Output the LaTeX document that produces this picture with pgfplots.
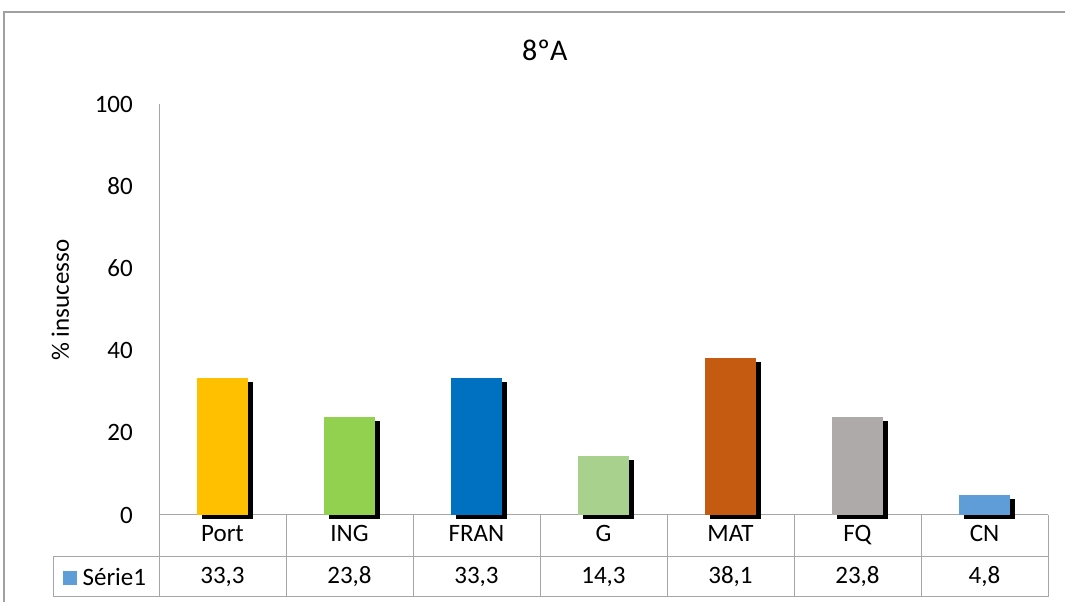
\documentclass[border=0pt]{standalone}
\usepackage{pgfplots}
\pgfplotsset{compat=1.18}
\usepackage{fontspec}
\setmainfont{Carlito}
\usetikzlibrary{shadows}
\definecolor{cPort}{HTML}{FFC000}
\definecolor{cING}{HTML}{92D050}
\definecolor{cFRAN}{HTML}{0070C0}
\definecolor{cG}{HTML}{A9D18E}
\definecolor{cMAT}{HTML}{C55A11}
\definecolor{cFQ}{HTML}{AEAAAA}
\definecolor{cCN}{HTML}{5E9DD8}
\definecolor{gridc}{HTML}{A6A6A6}
\definecolor{framec}{HTML}{A0A0A0}
\newcommand{\fs}{\fontsize{25}{30}\selectfont}
\tikzset{shad/.style={drop shadow={shadow xshift=5pt,shadow yshift=-4pt,fill=black,opacity=1}}}
\begin{document}
\begin{tikzpicture}[x=1pt,y=1pt]
\useasboundingbox (0,0) rectangle (1065,602);
\draw[framec, line width=1.2pt] (4,0) -- (4,590) -- (1065,590);
\begin{axis}[
  at={(159pt,87pt)}, anchor=south west, scale only axis,
  width=889pt, height=411pt,
  xmin=-0.5, xmax=6.5, ymin=0, ymax=100,
  clip=false,
  axis lines*=left,
  axis line style={draw=gridc, line width=1pt},
  major tick length=0pt,
  ytick={0,20,...,100},
  yticklabel style={font=\fs, inner sep=0pt, anchor=east, xshift=-26pt},
  /pgf/number format/assume math mode=true,
  xtick={0,...,6},
  xticklabels={Port,ING,FRAN,G,MAT,FQ,CN},
  xticklabel style={font=\fs, inner sep=0pt, text height=17pt, text depth=5pt, anchor=center, yshift=-21pt},
  extra x ticks={0,...,6},
  extra x tick labels={{33,3},{23,8},{33,3},{14,3},{38,1},{23,8},{4,8}},
  extra x tick style={xticklabel style={yshift=-42pt}, major tick length=0pt},
  title={8ºA},
  title style={at={(0.434,1)}, anchor=center, yshift=48pt, font=\fontsize{30}{36}\selectfont},
  ylabel={\% insucesso},
  ylabel style={at={(axis description cs:-0.111,0.523)}, anchor=center, font=\fs},
  legend style={draw=none, fill=none, at={(-0.108,-0.153)}, anchor=west, inner sep=0pt,
    nodes={inner sep=0pt}, font=\fs, /tikz/every odd column/.append style={column sep=6pt}},
]
\addlegendimage{legend image code/.code={\fill[cCN] (0pt,-6.5pt) rectangle (13pt,6.5pt);}}
\addlegendentry{Série1}
\addplot[ybar, bar width=51pt, bar shift=0pt, fill=cPort, draw=none, shad] coordinates {(0,33.3)};
\addplot[ybar, bar width=51pt, bar shift=0pt, fill=cING, draw=none, shad] coordinates {(1,23.8)};
\addplot[ybar, bar width=51pt, bar shift=0pt, fill=cFRAN, draw=none, shad] coordinates {(2,33.3)};
\addplot[ybar, bar width=51pt, bar shift=0pt, fill=cG, draw=none, shad] coordinates {(3,14.3)};
\addplot[ybar, bar width=51pt, bar shift=0pt, fill=cMAT, draw=none, shad] coordinates {(4,38.1)};
\addplot[ybar, bar width=51pt, bar shift=0pt, fill=cFQ, draw=none, shad] coordinates {(5,23.8)};
\addplot[ybar, bar width=51pt, bar shift=0pt, fill=cCN, draw=none, shad] coordinates {(6,4.8)};
\end{axis}
\draw[gridc, line width=1pt] (53,45) -- (1048,45) (53,5) -- (1048,5) (53,45) -- (53,5);
\foreach \k in {0,...,7} \draw[gridc, line width=1pt] ({159+127*\k},87) -- ({159+127*\k},5);
\end{tikzpicture}
\end{document}
